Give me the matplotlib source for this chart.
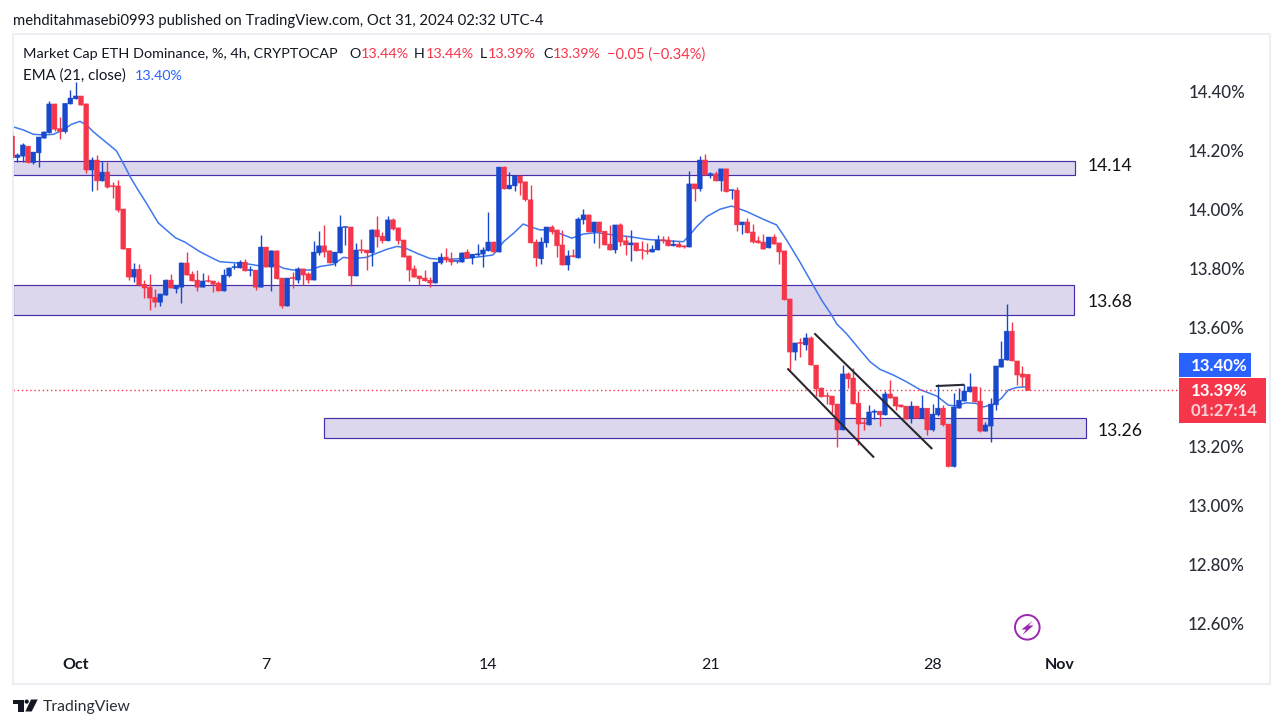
import numpy as np
import matplotlib
matplotlib.use("Agg")
import matplotlib.pyplot as plt
from matplotlib.patches import Polygon, Ellipse, Rectangle
from matplotlib.transforms import ScaledTranslation

# OHLC of the 4h bars (percent)
opens = [14.247,14.174,14.179,14.213,14.157,14.190,14.240,14.258,14.356,14.273,
         14.262,14.356,14.373,14.383,14.356,14.132,14.166,14.095,14.125,14.077,
         14.078,14.000,13.867,13.769,13.796,13.745,13.735,13.701,13.684,13.708,
         13.759,13.729,13.735,13.817,13.779,13.759,13.735,13.756,13.756,13.749,
         13.722,13.773,13.801,13.800,13.820,13.791,13.793,13.735,13.871,13.803,
         13.858,13.766,13.671,13.766,13.759,13.797,13.780,13.759,13.851,13.875,
         13.858,13.817,13.851,13.937,13.939,13.773,13.861,13.861,13.851,13.929,
         13.908,13.892,13.963,13.936,13.895,13.841,13.797,13.773,13.766,13.759,
         13.749,13.817,13.837,13.830,13.822,13.820,13.854,13.834,13.844,13.847,
         13.858,13.888,13.854,14.142,14.068,14.078,14.112,14.092,14.031,13.888,
         13.831,13.885,13.939,13.929,13.878,13.810,13.841,13.834,13.963,13.980,
         13.922,13.956,13.925,13.881,13.861,13.946,13.892,13.878,13.885,13.861,
         13.858,13.854,13.861,13.895,13.895,13.875,13.881,13.875,13.871,14.085,
         14.068,14.166,14.116,14.119,14.095,14.136,14.062,14.064,13.946,13.956,
         13.922,13.892,13.888,13.868,13.905,13.885,13.858,13.695,13.515,13.546,
         13.539,13.563,13.471,13.393,13.366,13.366,13.339,13.251,13.441,13.427,
         13.342,13.274,13.268,13.311,13.315,13.302,13.373,13.363,13.336,13.332,
         13.291,13.332,13.291,13.325,13.251,13.302,13.325,13.271,13.127,13.325,
         13.349,13.380,13.397,13.349,13.247,13.264,13.336,13.464,13.488,13.586,
         13.485,13.441,13.44]
closes = [14.174,14.183,14.217,14.157,14.193,14.244,14.261,14.356,14.270,14.262,
          14.358,14.376,14.383,14.352,14.132,14.166,14.095,14.125,14.074,14.075,
          13.996,13.864,13.769,13.796,13.742,13.732,13.698,13.684,13.712,13.759,
          13.732,13.742,13.817,13.776,13.756,13.735,13.756,13.754,13.745,13.722,
          13.776,13.800,13.803,13.820,13.790,13.793,13.735,13.871,13.803,13.858,
          13.763,13.671,13.766,13.764,13.797,13.776,13.759,13.854,13.875,13.854,
          13.817,13.854,13.939,13.939,13.773,13.861,13.858,13.851,13.929,13.905,
          13.892,13.963,13.932,13.892,13.837,13.793,13.769,13.763,13.756,13.749,
          13.820,13.837,13.827,13.820,13.824,13.851,13.834,13.847,13.847,13.861,
          13.888,13.854,14.142,14.068,14.081,14.112,14.088,14.031,13.885,13.834,
          13.888,13.939,13.922,13.875,13.810,13.841,13.838,13.966,13.980,13.922,
          13.956,13.922,13.878,13.861,13.946,13.888,13.878,13.885,13.858,13.859,
          13.855,13.864,13.895,13.892,13.875,13.881,13.871,13.871,14.085,14.068,
          14.166,14.115,14.119,14.095,14.136,14.058,14.064,13.946,13.956,13.919,
          13.888,13.885,13.864,13.905,13.881,13.854,13.692,13.515,13.546,13.544,
          13.563,13.471,13.390,13.363,13.364,13.336,13.251,13.441,13.424,13.339,
          13.271,13.272,13.312,13.315,13.302,13.373,13.359,13.332,13.329,13.288,
          13.332,13.291,13.325,13.251,13.305,13.325,13.268,13.127,13.329,13.352,
          13.383,13.397,13.346,13.247,13.268,13.339,13.468,13.491,13.586,13.485,
          13.437,13.430,13.385]
highs = [14.26,14.191,14.225,14.213,14.193,14.244,14.265,14.365,14.356,14.313,
         14.358,14.403,14.43,14.383,14.360,14.175,14.183,14.162,14.160,14.091,
         14.098,14.000,13.867,13.817,13.813,13.759,13.779,13.729,13.712,13.762,
         13.779,13.742,13.820,13.854,13.79,13.793,13.783,13.776,13.756,13.756,
         13.796,13.803,13.817,13.827,13.830,13.806,13.793,13.912,13.871,13.861,
         13.861,13.766,13.766,13.786,13.803,13.797,13.786,13.892,13.925,13.946,
         13.861,13.854,13.980,13.939,13.939,13.885,13.898,13.861,13.932,13.976,
         13.922,13.976,13.969,13.936,13.895,13.841,13.810,13.773,13.793,13.769,
         13.820,13.851,13.868,13.854,13.824,13.854,13.864,13.847,13.881,13.871,
         13.990,13.892,14.142,14.146,14.125,14.112,14.112,14.092,14.081,13.898,
         13.905,13.939,13.946,13.929,13.929,13.861,13.864,13.973,14.000,13.980,
         13.956,13.956,13.925,13.946,13.946,13.953,13.908,13.929,13.885,13.892,
         13.885,13.878,13.912,13.908,13.908,13.895,13.892,13.878,14.129,14.085,
         14.180,14.186,14.125,14.129,14.136,14.136,14.064,14.075,13.956,13.969,
         13.949,13.908,13.915,13.905,13.915,13.885,13.858,13.695,13.546,13.563,
         13.580,13.570,13.471,13.395,13.380,13.366,13.339,13.471,13.448,13.461,
         13.383,13.29,13.336,13.322,13.315,13.383,13.420,13.363,13.336,13.332,
         13.349,13.332,13.369,13.325,13.339,13.407,13.336,13.271,13.376,13.393,
         13.407,13.444,13.397,13.397,13.278,13.359,13.468,13.552,13.678,13.617,
         13.485,13.468,13.44]
lows = [14.17,14.160,14.160,14.157,14.152,14.142,14.240,14.258,14.265,14.237,
        14.258,14.356,14.373,14.352,14.122,14.061,14.064,14.095,14.072,14.037,
        13.990,13.864,13.759,13.752,13.739,13.698,13.657,13.667,13.671,13.708,
        13.732,13.715,13.681,13.776,13.756,13.722,13.735,13.754,13.718,13.722,
        13.722,13.769,13.796,13.800,13.790,13.773,13.725,13.735,13.803,13.722,
        13.763,13.664,13.671,13.732,13.749,13.742,13.749,13.759,13.844,13.837,
        13.817,13.807,13.851,13.878,13.739,13.773,13.851,13.793,13.807,13.871,
        13.885,13.892,13.929,13.881,13.837,13.756,13.769,13.742,13.756,13.736,
        13.749,13.814,13.820,13.810,13.817,13.820,13.834,13.814,13.841,13.803,
        13.858,13.854,13.854,14.068,14.068,14.061,14.047,14.027,13.885,13.807,
        13.814,13.871,13.915,13.837,13.810,13.793,13.838,13.834,13.949,13.922,
        13.885,13.868,13.878,13.861,13.851,13.875,13.844,13.824,13.858,13.831,
        13.847,13.854,13.861,13.885,13.875,13.875,13.871,13.868,13.871,14.027,
        14.061,14.115,14.105,14.095,14.061,14.058,14.034,13.925,13.915,13.919,
        13.885,13.885,13.864,13.868,13.881,13.814,13.692,13.454,13.488,13.498,
        13.522,13.471,13.366,13.363,13.339,13.309,13.193,13.251,13.393,13.339,
        13.200,13.251,13.268,13.288,13.264,13.302,13.359,13.319,13.329,13.288,
        13.275,13.291,13.291,13.234,13.247,13.298,13.264,13.127,13.127,13.325,
        13.349,13.380,13.346,13.244,13.247,13.210,13.319,13.464,13.488,13.485,
        13.403,13.400,13.385]

# EMA(21) read at a set of bar positions
ema_bars = [0.2,2.1,4,5.9,7.8,9.7,11.2,12.8,14.1,15.3,17.2,19.7,21,22.3,23.8,25.4,27.6,30.8,32.7,35.5,
            38,39.3,41.8,43.7,46.5,50,51.3,53.1,56.3,58.2,60.7,62.6,64.5,67,68.9,70.8,72.7,74,76.5,79,
            82,86,88.4,90.9,92.9,94.8,96.6,97.9,99.8,101.7,104.2,105.8,108,110.5,113.6,116.8,119.9,123.1,126.9,128.1,
            129.4,131.3,133.8,136,138.9,142,144.5,146.4,148.9,153,154.9,155.9,157.7,160.3,162.2,164,166.6,169.1,171.6,174.8,
            177,178.2,180.4,182.3,183.6,185.5,187,188.3,189.9,191.5,192]
ema_vals = [14.278,14.268,14.253,14.251,14.253,14.268,14.287,14.297,14.284,14.262,14.234,14.197,14.155,14.109,14.064,14.019,13.953,13.903,13.887,13.855,
            13.832,13.821,13.818,13.816,13.808,13.810,13.799,13.793,13.793,13.805,13.812,13.836,13.832,13.836,13.850,13.863,13.873,13.870,13.850,13.832,
            13.829,13.833,13.838,13.844,13.889,13.918,13.949,13.940,13.929,13.931,13.912,13.901,13.915,13.920,13.912,13.906,13.897,13.893,13.889,13.912,
            13.940,13.974,13.999,14.010,13.991,13.965,13.946,13.895,13.821,13.692,13.641,13.610,13.578,13.522,13.482,13.457,13.437,13.414,13.388,13.366,
            13.335,13.333,13.343,13.341,13.329,13.338,13.358,13.386,13.395,13.397,13.40]

# support / resistance boxes: first bar, last bar, low, high
zone_starts = [0.15, 0.15, 59]
zone_ends = [201, 200.8, 203]
zone_lows = [14.115, 13.640, 13.223]
zone_highs = [14.163, 13.741, 13.290]
zone_names = ["14.14", "13.68", "13.26"]

# hand drawn trend lines
trend_bars = [[146.7, 162.8], [151.8, 173.8], [174.8, 179.8]]
trend_vals = [[13.457, 13.160], [13.576, 13.189], [13.40, 13.404]]

price_ticks = [14.40, 14.20, 14.00, 13.80, 13.60, 13.20, 13.00, 12.80, 12.60]
time_ticks = [12, 48, 90, 132, 174, 198]
time_labels = ["Oct", "7", "14", "21", "28", "Nov"]

UP = "#1848cc"
DOWN = "#f5364a"
FONT = "Lato"
INK = "#131722"
W, H = 1283, 728

plt.rcParams["font.family"] = FONT

fig = plt.figure(figsize=(W / 100, H / 100), dpi=100)


# pixel position to figure fraction
def fx(x):
    return x / W


def fy(y):
    return 1 - y / H


ax = fig.add_axes([fx(13), fy(684), (1270 - 13) / W, (684 - 34) / H])
ax.set_xlim(0.15, 237.8)
ax.set_ylim(12.390, 14.593)

# 1. boxes
for s, e, lo, hi in zip(zone_starts, zone_ends, zone_lows, zone_highs):
    ax.add_patch(Rectangle((s, lo), e - s, hi - lo, facecolor="#dcd7ec", edgecolor="#4a2ca6",
                           linewidth=0.85, zorder=1))

# 2. EMA under the candles
ax.plot(ema_bars, ema_vals, color="#3f78ee", linewidth=1.1, zorder=2)

# 3. candles
bars = np.arange(len(opens))
o = np.array(opens)
c = np.array(closes)
colors = [UP if c[i] >= o[i] else DOWN for i in bars]
ax.vlines(bars, lows, highs, colors=colors, linewidth=1.0, zorder=3)
body_low = np.minimum(o, c)
body_h = np.maximum(np.abs(c - o), 0.004)
ax.bar(bars, body_h, bottom=body_low, width=0.92, color=colors, edgecolor=colors, linewidth=0.3,
       zorder=4, snap=False)

# 4. trend lines
for tb, tv in zip(trend_bars, trend_vals):
    ax.plot(tb, tv, color="#2a2a33", linewidth=1.5, zorder=5)

# 5. last price line
ax.axhline(closes[-1], xmin=0, xmax=0.929, color=DOWN, linewidth=1.0, linestyle=(0, (1, 2)), zorder=2)

# 6. axes
ax.set_xticks(time_ticks)
ax.set_xticklabels(time_labels)
ax.set_yticks(price_ticks)
ax.set_yticklabels(["%.2f%%" % p for p in price_ticks])
ax.yaxis.tick_right()
ax.tick_params(axis="y", length=0, pad=-18, labelsize=12.2, labelcolor="#2a2e39")
nudge = ScaledTranslation(0, -1 / 100, fig.dpi_scale_trans)
for lab in ax.get_yticklabels():
    lab.set_ha("right")
    lab.set_fontweight("medium")
    lab.set_transform(lab.get_transform() + nudge)
ax.tick_params(axis="x", length=0, pad=-19, labelsize=11.5, labelcolor=INK)
for lab, t in zip(ax.get_xticklabels(), time_labels):
    if t in ("Oct", "Nov"):
        lab.set_fontweight("bold")
for s in ax.spines.values():
    s.set_color("#eeeef5")
    s.set_linewidth(1.5)

# 7. zone labels
zone_label_x = [1088, 1088, 1098]
zone_label_y = [166, 301.5, 431]
for name, x, y in zip(zone_names, zone_label_x, zone_label_y):
    fig.text(fx(x), fy(y), name, fontsize=12.6, color="#111111", ha="left", va="center")

# 8. header text
fig.text(fx(13), fy(20.5), "mehditahmasebi0993 published on TradingView.com, Oct 31, 2024 02:32 UTC-4",
         fontsize=10.75, color=INK, va="center")
fig.text(fx(23), fy(54.5), "Market Cap ETH Dominance, %, 4h, CRYPTOCAP", fontsize=10.4, color=INK, va="center")
ohlc_letters = [("O", 349), ("H", 414), ("L", 480), ("C", 543)]
ohlc_values = [("13.44%", 361), ("13.44%", 426), ("13.39%", 488), ("13.39%", 553)]
for t, x in ohlc_letters:
    fig.text(fx(x), fy(54.5), t, fontsize=10.3, color=INK, va="center")
for t, x in ohlc_values:
    fig.text(fx(x), fy(54.5), t, fontsize=10.3, color=DOWN, va="center")
fig.text(fx(607), fy(54.5), "\u22120.05 (\u22120.34%)", fontsize=10.5, color=DOWN, va="center")
fig.text(fx(23), fy(75.5), "EMA (21, close)", fontsize=10.8, color=INK, va="center")
fig.text(fx(135), fy(75.5), "13.40%", fontsize=10.3, color="#2962ff", va="center")

# 9. price tags
fig.add_artist(Rectangle((fx(1179), fy(377)), 72 / W, 24 / H, transform=fig.transFigure,
                         facecolor="#2962ff", edgecolor="none"))
fig.add_artist(Rectangle((fx(1179), fy(423)), 87 / W, 45 / H, transform=fig.transFigure,
                         facecolor=DOWN, edgecolor="none"))
fig.text(fx(1191), fy(366), "13.40%", fontsize=12.2, color="white", va="center", fontweight="bold")
fig.text(fx(1191), fy(391), "13.39%", fontsize=12.2, color="white", va="center", fontweight="bold")
fig.text(fx(1191), fy(411), "01:27:14", fontsize=12.2, color="#fcd0d5", va="center", fontweight="bold")

# 10. lightning badge
fig.add_artist(Ellipse((fx(1027.3), fy(627.3)), 24.6 / W, 24.6 / H, transform=fig.transFigure, facecolor="none",
                       edgecolor="#9c27b0", linewidth=1.4))
bolt = [(1033, 620.5), (1021.5, 629.5), (1026, 629.5), (1022.5, 635), (1033.5, 625.5), (1028.5, 625.5)]
fig.add_artist(Polygon([(fx(x), fy(y)) for x, y in bolt], closed=True, transform=fig.transFigure,
                       facecolor="#9c27b0", edgecolor="none"))

# 11. logo
logo_parts = [
    [(13.3, 699.5), (24.3, 699.5), (24.3, 711.5), (18.3, 711.5), (18.3, 703.5), (13.3, 703.5)],
    [(31, 699.5), (37.7, 699.5), (31.7, 711.5), (25.3, 711.5)],
]
for part in logo_parts:
    fig.add_artist(Polygon([(fx(x), fy(y)) for x, y in part], closed=True, transform=fig.transFigure,
                           facecolor=INK, edgecolor="none"))
fig.add_artist(Ellipse((fx(26.7), fy(701.6)), 4.2 / W, 4.2 / H, transform=fig.transFigure, facecolor=INK, edgecolor="none"))
fig.text(fx(43), fy(706.5), "TradingView", fontsize=11.3, color="#2a2e39", va="center")

plt.savefig("out.png", dpi=100)
